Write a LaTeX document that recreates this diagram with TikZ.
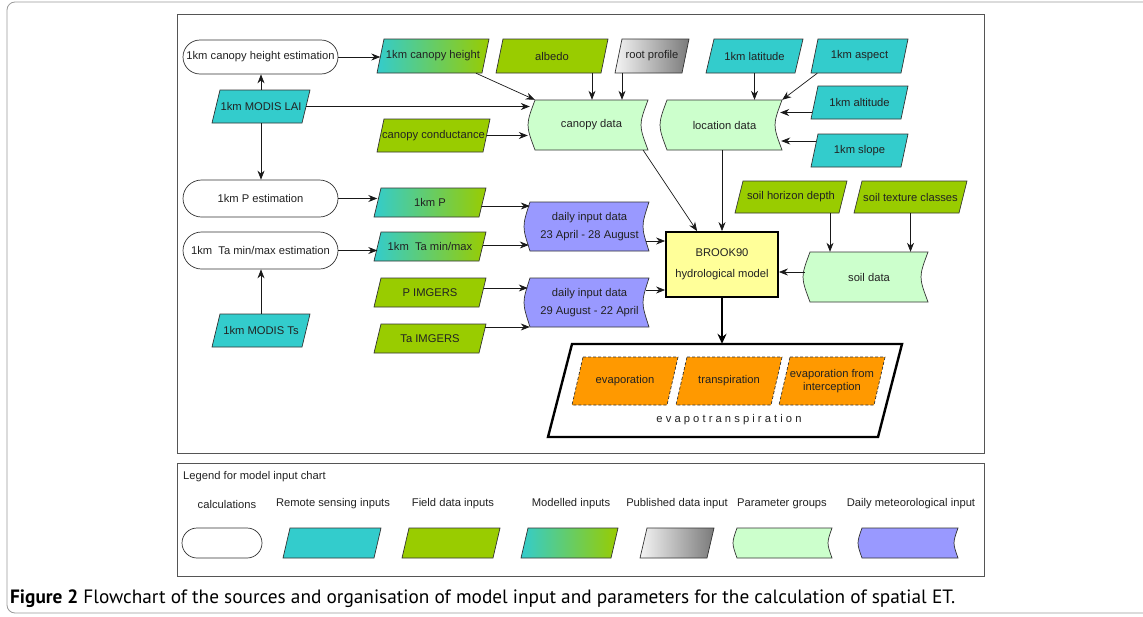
\documentclass[tikz,border=0pt]{standalone}
\usepackage{fontspec}
\usepackage{graphicx}
\newfontfamily\arialf{Liberation Sans}
\newfontfamily\capf{PT Sans}
\usetikzlibrary{arrows.meta,calc}
\definecolor{rsteal}{HTML}{33CCCC}
\definecolor{fdgreen}{HTML}{99CC00}
\definecolor{pgreen}{HTML}{CCFFCC}
\definecolor{dpurple}{HTML}{9999FF}
\definecolor{byellow}{HTML}{FFFF99}
\definecolor{etorange}{HTML}{FF9900}
\definecolor{edgec}{HTML}{333333}
\definecolor{publ}{HTML}{F4F4F4}
\definecolor{pubd}{HTML}{7A7A7A}
\definecolor{framec}{HTML}{555555}
\definecolor{outerc}{HTML}{9A9A9A}
\definecolor{textc}{HTML}{222222}
\tikzset{
  txt/.style={inner sep=0pt, align=center, text=textc, font=\arialf\fontsize{11.2}{13.4}\selectfont},
  shp/.style={draw=edgec, line width=0.7pt},
  rs/.style={shp, fill=rsteal},
  fd/.style={shp, fill=fdgreen},
  md/.style={shp, left color=rsteal, right color=fdgreen},
  pb/.style={shp, left color=publ, right color=pubd},
  pg/.style={shp, fill=pgreen},
  dm/.style={shp, fill=dpurple},
  orng/.style={shp, fill=etorange, dash pattern=on 3pt off 2pt},
  etbox/.style={draw=black, line width=2.4pt, fill=white},
  calcbox/.style={txt, draw=edgec, line width=0.7pt, fill=white},
  brookbox/.style={txt, draw=black, line width=1.8pt, fill=byellow, font=\arialf\fontsize{11.2}{21}\selectfont},
  arr/.style={draw=black!90, line width=0.7pt, -{Stealth[length=9pt,width=7pt]}},
  thickarr/.style={draw=black, line width=2.2pt, -{Stealth[length=10pt,width=9pt]}},
  frame/.style={draw=framec, line width=1pt},
}
% parallelogram: name, x1 (bottom-left), y1 (top), x2 (top-right), y2 (bottom), slant, style, text
\newcommand\pgramnode[8]{%
  \path[#7] ({#2+#6},#3) -- (#4,#3) -- ({#4-#6},#5) -- (#2,#5) -- cycle;
  \node[txt, minimum width={(#4-#2-#6)*1pt}, minimum height={(#5-#3)*1pt}] (#1) at ({(#2+#4)/2},{(#3+#5)/2}) {#8};}
% stored data: name, x1, y1, x2, y2, bulge, style, text
\newcommand\storednode[8]{%
  \path[#7] (#2,#3) -- (#4,#3) .. controls ({#4-1.33*#6},{(#3+#5)/2}) .. (#4,#5) -- (#2,#5) .. controls ({#2-1.33*#6},{(#3+#5)/2}) .. (#2,#3) -- cycle;
  \node[txt, minimum width={(#4-#2)*1pt}, minimum height={(#5-#3)*1pt}] (#1) at ({(#2+#4)/2},{(#3+#5)/2}) {#8};}
\begin{document}
\begin{tikzpicture}[x=1pt,y=-1pt]
\useasboundingbox (0,0) rectangle (1143,616);
\begin{scope}
  \clip (0,0) rectangle (1143,616);
  \draw[outerc, line width=0.8pt, rounded corners=8pt] (7,2) rectangle (1190,613);
\end{scope}
% frames
\draw[frame] (177,14) rectangle (984,453);
\draw[frame] (177,463) rectangle (984,576);

% calculations
\node[calcbox, minimum width=155pt, minimum height=34pt, rounded corners=17pt] (che) at (260.5,57) {1km canopy height estimation};
\node[calcbox, minimum width=155pt, minimum height=37pt, rounded corners=18.5pt] (pe) at (260.5,198.5) {1km P estimation};
\node[calcbox, minimum width=155pt, minimum height=37pt, rounded corners=18.5pt] (tae) at (260.5,250.5) {1km\ \ Ta min/max estimation};

% remote sensing
\pgramnode{lai}{212}{90}{310}{123}{8}{rs}{1km MODIS LAI}
\pgramnode{ts}{212}{314}{310}{347}{8}{rs}{1km MODIS Ts}
\pgramnode{lat}{706}{39}{803}{73}{8}{rs}{1km latitude}
\pgramnode{asp}{811}{39}{908}{73}{7}{rs}{1km aspect}
\pgramnode{alt}{811}{86}{908}{119}{7}{rs}{1km altitude}
\pgramnode{slope}{811}{134}{908}{167}{7}{rs}{1km slope}

% field data
\pgramnode{albedo}{496}{39}{608}{73}{7}{fd}{albedo}
\pgramnode{cc}{377}{119}{490}{152}{7}{fd}{canopy conductance}
\pgramnode{pimg}{374}{278}{486}{307}{7}{fd}{P IMGERS}
\pgramnode{taimg}{374}{324}{486}{353}{7}{fd}{Ta IMGERS}
\pgramnode{shd}{735}{181}{847}{213}{8}{fd}{soil horizon depth}
\pgramnode{stc}{854}{181}{967}{213}{8}{fd}{soil texture classes}

% modelled
\pgramnode{ch}{377}{39}{489}{73}{7}{md}{1km canopy height}
\pgramnode{p}{374}{188}{486}{217}{7}{md}{1km P}
\pgramnode{ta}{374}{232}{486}{261}{7}{md}{1km\ \ Ta min/max}

% published
\pgramnode{root}{615}{39}{689}{73}{7}{pb}{root profile}

% parameter groups
\storednode{cd}{535}{100}{648}{150}{7}{pg}{canopy data}
\storednode{ld}{667}{100}{782}{150}{7}{pg}{location data}
\storednode{sd}{810}{252}{928}{302}{7}{pg}{soil data}

% daily meteorological input
\storednode{d1}{530}{202}{649}{251}{6}{dm}{daily input data\\[4.5pt]23 April - 28 August}
\storednode{d2}{530}{278}{649}{327}{6}{dm}{daily input data\\[4.5pt]29 August - 22 April}

% model
\node[brookbox, minimum width=112pt, minimum height=65pt] (brook) at (722,264.5) {BROOK90\\hydrological model};

% evapotranspiration
\pgramnode{et}{548}{344}{902}{437}{24}{etbox}{}
\pgramnode{ev}{572}{357}{678}{405}{11}{orng}{evaporation}
\pgramnode{tr}{676}{357}{782}{405}{11}{orng}{transpiration}
\pgramnode{ei}{779}{357}{885}{405}{11}{orng}{\fontsize{11.2}{12.4}\selectfont evaporation from\\interception}
\node[txt] (etlab) at (729,420) {e v a p o t r a n s p i r a t i o n};

% connectors
\draw[arr] (che.east) -- (che.east -| ch.west);
\draw[arr] (lai.north) -- (lai.north |- che.south);
\draw[arr] (lai.south) -- (lai.south |- pe.north);
\draw[arr] (lai.east) -- ($(lai.east -| cd.west)+(-5,0)$);
\draw[arr] ($(ch.south)+(43,0)$) -- (cd.north west);
\draw[arr] (cc.east) -- ($(cc.east -| cd.west)+(-7,0)$);
\coordinate (a1) at ($(albedo.south)+(40,0)$);
\draw[arr] (a1) -- (a1 |- cd.north);
\coordinate (a2) at ($(root.south)+(-30,0)$);
\draw[arr] (a2) -- (a2 |- cd.north);
\draw[arr] (lat.south) -- (lat.south |- ld.north);
\draw[arr] ($(asp.south west)+(3,0)$) -- (ld.north east);
\coordinate (b1) at ($(alt.west)+(-2,10)$);
\draw[arr] (b1) -- ($(b1 -| ld.east)+(-2,0)$);
\coordinate (b2) at ($(slope.west)+(2,-9.5)$);
\draw[arr] (b2) -- ($(b2 -| ld.east)+(-1,0)$);
\draw[arr] ($(cd.south east)+(-5,0)$) -- ($(brook.north west)+(32,0)$);
\draw[arr] (ld.south -| brook.north) -- (brook.north);
\coordinate (c1) at ($(shd.south)+(39,0)$);
\draw[arr] (c1) -- (c1 |- sd.north);
\draw[arr] (stc.south) -- (stc.south |- sd.north);
\coordinate (c2) at ($(sd.west)+(-5,-5)$);
\draw[arr] (c2) -- (c2 -| brook.east);
\coordinate (e1) at ($(p.east)+(-1,3.5)$);
\draw[arr] (e1) -- (e1 -| d1.west);
\coordinate (e2) at ($(ta.east)+(0,-1.5)$);
\draw[arr] (e2) -- ($(e2 -| d1.west)+(-1,0)$);
\coordinate (e3) at ($(pimg.east)+(1,-4.5)$);
\draw[arr] (e3) -- ($(e3 -| d2.west)+(-2,0)$);
\coordinate (e4) at ($(taimg.east)+(2,-11.5)$);
\draw[arr] (e4) -- (e4 -| d2.west);
\coordinate (f1) at ($(d1.east)+(-3,14.5)$);
\draw[arr] (f1) -- (f1 -| brook.west);
\coordinate (f2) at ($(d2.east)+(-3,-12.5)$);
\draw[arr] (f2) -- (f2 -| brook.west);
\draw[thickarr] (brook.south) -- (brook.south |- et.north);
\draw[arr] (ts.north) -- (ts.north |- tae.south);
\draw[arr] (pe.east) -- (pe.east -| p.west);
\draw[arr] (tae.east) -- (tae.east -| ta.west);

% legend
\node[txt, anchor=west] (legt) at (183,477) {Legend for model input chart};
\node[txt] (l1) at (227,504) {calculations};
\node[txt] (l2) at (333,504) {Remote sensing inputs};
\node[txt] (l3) at (453,504) {Field data inputs};
\node[txt] (l4) at (571,504) {Modelled inputs};
\node[txt] (l5) at (677,504) {Published data input};
\node[txt] (l6) at (782,504) {Parameter groups};
\node[txt] (l7) at (911,504) {Daily meteorological input};
\node[calcbox, minimum width=80pt, minimum height=30pt, rounded corners=15pt] (lcalc) at (222,543) {};
\pgramnode{lrs}{283}{528}{381}{558}{7}{rs}{}
\pgramnode{lfd}{402}{528}{500}{558}{7}{fd}{}
\pgramnode{lmd}{521}{528}{618}{558}{7}{md}{}
\pgramnode{lpb}{640}{528}{714}{558}{7}{pb}{}
\storednode{lpg}{737}{528}{832}{558}{4}{pg}{}
\storednode{ldm}{862}{528}{958}{558}{4}{dm}{}

% caption
\node[anchor=base west, inner sep=0pt] (cap) at (10,603) {\resizebox{945pt}{!}{\capf\fontsize{17}{20}\selectfont\textbf{Figure 2} Flowchart of the sources and organisation of model input and parameters for the calculation of spatial ET.}};
\end{tikzpicture}
\end{document}
